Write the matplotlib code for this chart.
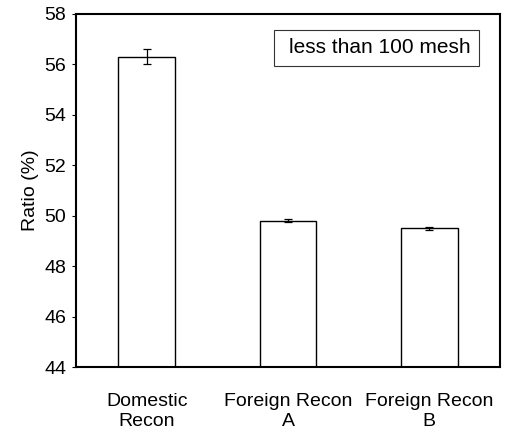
import matplotlib.pyplot as plt
from matplotlib.patches import Rectangle

categories = ["Domestic\nRecon", "Foreign Recon\nA", "Foreign Recon\nB"]
ratios = [56.3, 49.8, 49.5]
errors = [0.3, 0.06, 0.05]
legend_label = "less than 100 mesh"

plt.rcParams["font.family"] = ["Liberation Sans", "DejaVu Sans"]

fig = plt.figure(figsize=(5.05, 4.34), dpi=100)
ax = fig.add_axes([76 / 505, 1 - 367 / 434, 424 / 505, 353 / 434])

positions = range(len(categories))
ax.bar(
    positions,
    [r - 44 for r in ratios],
    bottom=44,
    width=0.4,
    color="white",
    edgecolor="black",
    linewidth=1.0,
    yerr=errors,
    capsize=3,
    error_kw={"elinewidth": 0.9, "capthick": 0.9, "ecolor": "black"},
)

ax.set_xlim(-0.5, 2.5)
ax.set_ylim(44, 58)
ax.set_yticks(range(44, 59, 2))
ax.set_xticks(list(positions))
ax.set_xticklabels(categories, fontsize=14, linespacing=1.2)
ax.tick_params(axis="x", length=0, pad=19)
ax.tick_params(axis="y", labelsize=14, length=3, direction="out", width=0.8, pad=4)
ax.set_ylabel("Ratio (%)", fontsize=14, labelpad=4)
for spine in ax.spines.values():
    spine.set_linewidth(1.5)

leg = ax.legend(
    handles=[Rectangle((0, 0), 0, 0, visible=False)],
    labels=[legend_label],
    loc="upper right",
    bbox_to_anchor=(0.950, 0.955),
    borderaxespad=0,
    handlelength=0.3,
    handletextpad=0,
    fontsize=15,
    frameon=True,
    fancybox=False,
    borderpad=0.4,
)
leg.get_frame().set_edgecolor("black")
leg.get_frame().set_linewidth(0.8)

fig.savefig("out.png", dpi=100)
